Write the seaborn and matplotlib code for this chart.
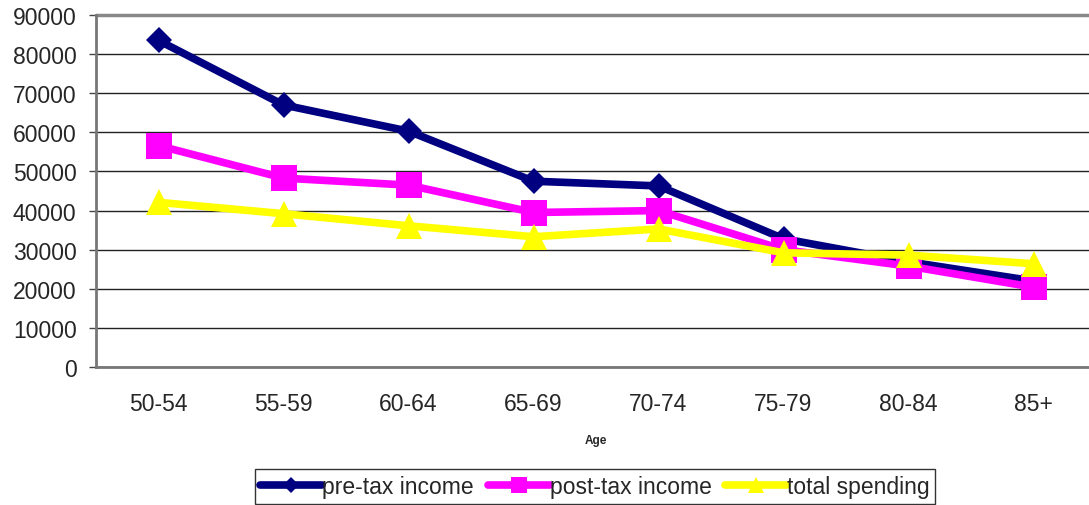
import matplotlib
matplotlib.use("Agg")
import matplotlib.pyplot as plt
from matplotlib.lines import Line2D
import numpy as np
import pandas as pd
import seaborn as sns

ages = ["50-54", "55-59", "60-64", "65-69", "70-74", "75-79", "80-84", "85+"]
pre_tax = [83500, 67000, 60300, 47500, 46300, 32800, 26900, 22000]
post_tax = [56600, 48300, 46500, 39500, 40000, 30000, 25800, 20400]
spending = [42100, 39200, 36100, 33300, 35300, 29200, 28600, 26400]

series_names = ["pre-tax income", "post-tax income", "total spending"]
colors = ["#000080", "#FF00FF", "#FFFF00"]
markers = ["D", "s", "^"]
msizes = [13.5, 19, 19]

df = pd.DataFrame({"age": ages, "pre-tax income": pre_tax,
                   "post-tax income": post_tax, "total spending": spending})
df["pos"] = np.arange(len(ages))

sns.set_style("white")
plt.rcParams["font.family"] = ["Liberation Sans", "DejaVu Sans"]

fig = plt.figure(figsize=(10.89, 5.06), dpi=100)
ax = fig.add_axes([96 / 1089, 1 - 368 / 506, 1000 / 1089, (368 - 16) / 506])

for name, c, m, ms in zip(series_names, colors, markers, msizes):
    sns.lineplot(data=df, x="pos", y=name, ax=ax, color=c, lw=5.5,
                 marker=m, markersize=ms, markeredgewidth=0, label=None,
                 legend=False, clip_on=False, zorder=3)

ax.set_xlim(-0.5, len(ages) - 0.5)
ax.set_ylim(0, 90000)
ax.set_yticks(np.arange(0, 90001, 10000))
ax.set_yticklabels([str(v) for v in range(0, 90001, 10000)], fontsize=16.5)
ax.set_xticks(np.arange(len(ages)))
ax.set_xticklabels(ages, fontsize=16.5)
ax.set_xticks(np.arange(-0.5, len(ages), 1.0), minor=True)
ax.tick_params(axis="x", which="major", length=0, pad=18)
ax.tick_params(axis="x", which="minor", length=7, width=1, color="#444444",
               direction="out")
ax.tick_params(axis="y", length=5, width=1, color="#444444", direction="out",
               pad=9, left=True)
ax.grid(axis="y", color="#222222", lw=1)
ax.set_axisbelow(True)

ax.spines["top"].set_visible(False)
ax.spines["right"].set_visible(False)
ax.spines["left"].set_color("#777777")
ax.spines["left"].set_linewidth(2)
ax.spines["bottom"].set_color("#777777")
ax.spines["bottom"].set_linewidth(2)
ax.axhline(90000, color="#888888", lw=2.5, zorder=2, clip_on=False)

ax.set_xlabel("Age", fontsize=8.5, fontweight="bold", labelpad=14)
ax.set_ylabel("")

handles = [Line2D([], [], color=c, lw=5.5, marker=m, markersize=ms * 0.6,
                  markeredgewidth=0)
           for c, m, ms in zip(colors, markers, msizes)]
leg = fig.legend(handles, series_names, loc="lower center",
                 bbox_to_anchor=(595 / 1089, 0.0), ncol=3, fontsize=16.5,
                 frameon=True, fancybox=False, edgecolor="black",
                 handlelength=2.7, handletextpad=0.0, columnspacing=0.6,
                 borderpad=0.25, borderaxespad=0.05)
leg.get_frame().set_linewidth(1)

fig.savefig("out.png", dpi=100)
